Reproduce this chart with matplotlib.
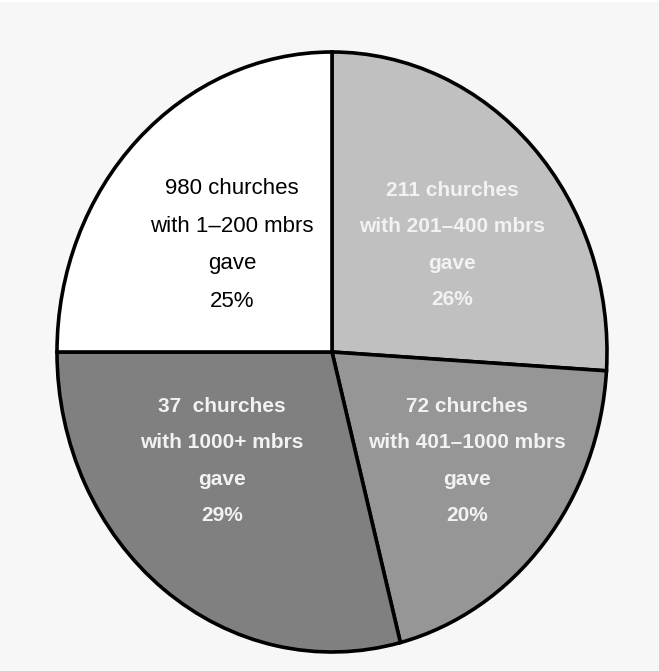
import matplotlib
matplotlib.use("Agg")
import matplotlib.pyplot as plt
from matplotlib.patches import Rectangle

# ---- data ----
churches = ["211", "72", "37 ", "980"]
member_ranges = ["201\u2013400", "401\u20131000", "1000+", "1\u2013200"]
share_pct = [26, 20, 29, 25]
title = "Giving Amounts by Size"

# ---- style ----
slice_colors = ["#c0c0c0", "#969696", "#808080", "#ffffff"]
text_colors = ["#f2f2f2", "#f2f2f2", "#f2f2f2", "#000000"]
text_weights = ["bold", "bold", "bold", "normal"]
text_sizes = [15, 15, 15, 16]
text_spacing = [2.17, 2.17, 2.17, 2.05]
label_pos = [(0.436, 0.357), (0.49, -0.363), (-0.40, -0.363), (-0.364, 0.357)]
family = "Liberation Sans"

W, H = 659, 671
fig = plt.figure(figsize=(W / 100, H / 100), dpi=100)
fig.patch.set_facecolor("#f7f7f7")
fig.add_artist(Rectangle((0, 1 - 2 / H), 1, 2 / H, transform=fig.transFigure,
                         facecolor="white", edgecolor="none"))
fig.text(168 / W, 1 + 8 / H, title, family="Liberation Serif", fontweight="bold",
         fontsize=16, ha="left", va="baseline")

left, right, top, bottom = 57, 607, 52, 652
ax = fig.add_axes([left / W, (H - bottom) / H, (right - left) / W, (bottom - top) / H])
wedges, _ = ax.pie(share_pct, colors=slice_colors, startangle=90, counterclock=False,
                   radius=1, wedgeprops=dict(edgecolor="black", linewidth=2.6, clip_on=False))
ax.set_aspect("auto")
ax.set_xlim(-1, 1)
ax.set_ylim(-1, 1)
ax.axis("off")

for i in range(len(share_pct)):
    txt = f"{churches[i]} churches\nwith {member_ranges[i]} mbrs\ngave\n{share_pct[i]}%"
    ax.text(label_pos[i][0], label_pos[i][1], txt, ha="center", va="center",
            multialignment="center", color=text_colors[i], fontweight=text_weights[i],
            family=family, fontsize=text_sizes[i], linespacing=text_spacing[i])

fig.savefig("out.png", dpi=100, facecolor=fig.get_facecolor())
